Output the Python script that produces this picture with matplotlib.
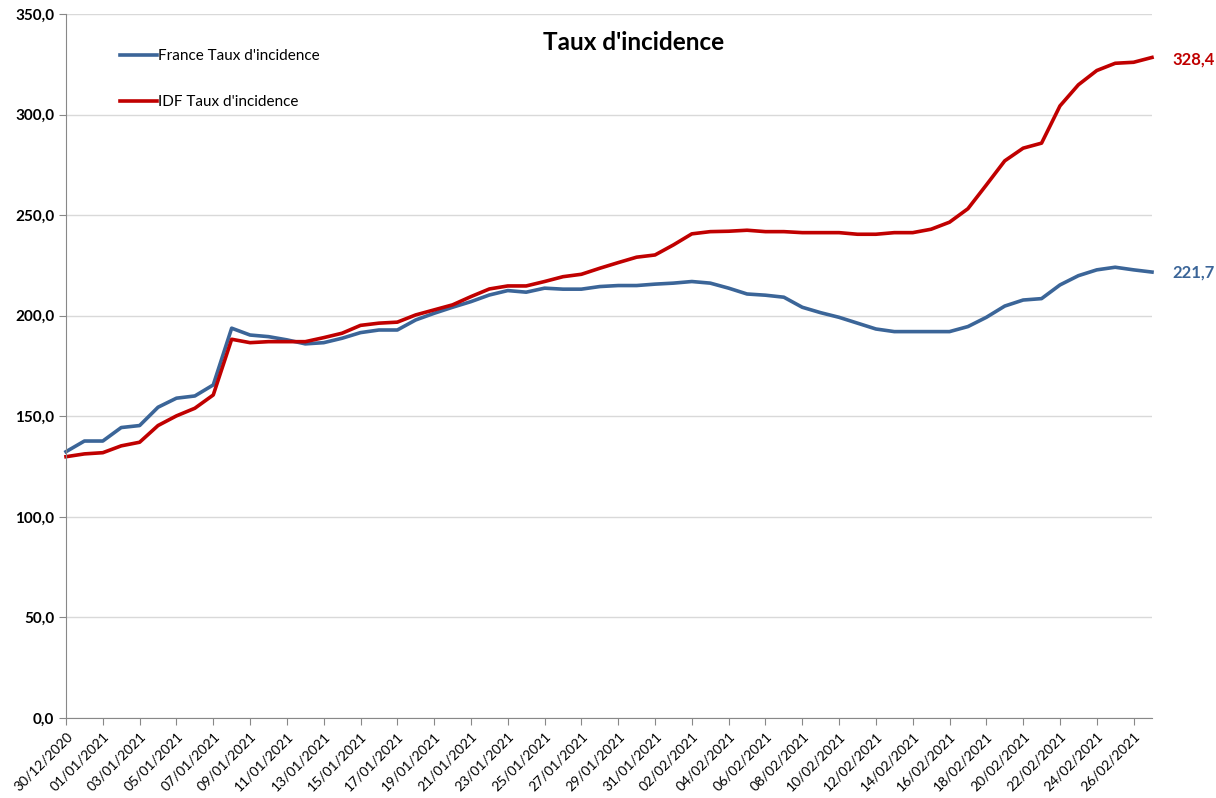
import datetime as dt
import numpy as np
from matplotlib import pyplot as plt

# daily dates, 30/12/2020 -> 27/02/2021
start = dt.date(2020, 12, 30)
dates = [(start + dt.timedelta(days=i)).strftime('%d/%m/%Y') for i in range(60)]

france = [132.4, 137.7, 137.7, 144.4, 145.4, 154.5, 159.0, 160.1, 165.6, 193.8,
          190.4, 189.6, 188.0, 186.0, 186.6, 188.8, 191.6, 192.9, 192.9, 197.9,
          201.2, 204.2, 207.0, 210.3, 212.5, 211.7, 213.7, 213.2, 213.2, 214.5,
          215.0, 215.0, 215.7, 216.2, 217.0, 216.2, 213.7, 210.8, 210.2, 209.2,
          204.2, 201.5, 199.2, 196.3, 193.4, 192.1, 192.1, 192.1, 192.1, 194.6,
          199.2, 204.8, 207.8, 208.5, 215.3, 219.9, 222.8, 224.1, 222.8, 221.7]

idf = [129.9, 131.3, 131.9, 135.3, 137.1, 145.4, 150.2, 154.0, 160.6, 188.3,
       186.6, 187.1, 187.1, 187.1, 189.1, 191.3, 195.2, 196.3, 196.8, 200.4,
       202.9, 205.4, 209.5, 213.3, 214.8, 214.8, 217.0, 219.4, 220.6, 223.6,
       226.4, 229.1, 230.2, 235.2, 240.7, 241.8, 242.0, 242.5, 241.8, 241.8,
       241.3, 241.3, 241.3, 240.5, 240.5, 241.3, 241.3, 243.0, 246.5, 253.2,
       265.0, 277.0, 283.3, 285.8, 304.3, 314.8, 321.9, 325.5, 326.0, 328.4]

blue = '#3B6598'
red = '#C00000'
plt.rcParams['font.family'] = ['Lato', 'DejaVu Sans']

fig = plt.figure(figsize=(12.16, 7.98), dpi=100)
ax = fig.add_axes([66 / 1216, 1 - 718 / 798, (1152 - 66) / 1216, (718 - 14) / 798])

x = np.arange(len(dates))
ax.plot(x, france, color=blue, lw=2.6, label='France Taux d\'incidence', clip_on=False)
ax.plot(x, idf, color=red, lw=2.6, label='IDF Taux d\'incidence', clip_on=False)

ax.set_xlim(0, len(dates) - 1)
ax.set_ylim(0, 350)
ax.set_yticks(np.arange(0, 351, 50))
ax.set_yticklabels([f'{v:.1f}'.replace('.', ',') for v in np.arange(0, 351, 50)],
                   fontsize=11, fontweight='bold')
ax.set_xticks(x[::2])
ax.set_xticklabels(dates[::2], rotation=45, ha='right', rotation_mode='anchor', fontsize=10)
ax.grid(axis='y', color='#D9D9D9', lw=1)
ax.set_axisbelow(True)
for s in ['top', 'right']:
    ax.spines[s].set_visible(False)
for s in ['left', 'bottom']:
    ax.spines[s].set_color('#888888')
ax.tick_params(axis='both', color='#888888', length=5)

ax.text(0.523, 0.96, 'Taux d\'incidence', transform=ax.transAxes, ha='center', va='center',
        fontsize=17.5, fontweight='bold')

# end-of-line values
ax.text(len(dates) - 1 + 1.1, idf[-1] - 0.8, f'{idf[-1]:.1f}'.replace('.', ','), color=red,
        fontsize=12, fontweight='bold', va='center', ha='left')
ax.text(len(dates) - 1 + 1.1, france[-1], f'{france[-1]:.1f}'.replace('.', ','), color=blue,
        fontsize=12, fontweight='bold', va='center', ha='left')

ax.legend(loc='upper left', bbox_to_anchor=(0.037, 0.97), frameon=False, fontsize=11,
          handlelength=2.4, handletextpad=0.1, labelspacing=2.1)

fig.savefig('out.png', dpi=100)
